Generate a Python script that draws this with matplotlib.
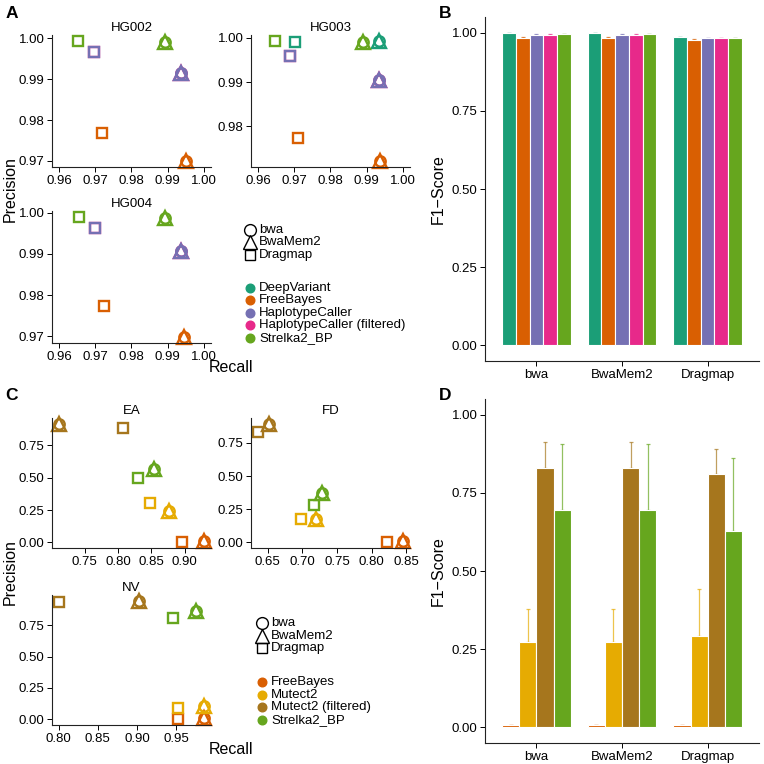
import matplotlib
matplotlib.use("Agg")
import matplotlib.pyplot as plt
import numpy as np
from matplotlib.lines import Line2D

plt.rcParams['font.family'] = ['Liberation Sans', 'DejaVu Sans']

W = H = 764
DPI = 100

# ---------------- data ----------------
aligners = ["bwa", "BwaMem2", "Dragmap"]
aligner_markers = {"bwa": "o", "BwaMem2": "^", "Dragmap": "s"}

germ_callers = ["DeepVariant", "FreeBayes", "HaplotypeCaller", "HaplotypeCaller (filtered)", "Strelka2_BP"]
germ_colors = ["#1B9E77", "#D95F02", "#7570B3", "#E7298A", "#66A61E"]

som_callers = ["FreeBayes", "Mutect2", "Mutect2 (filtered)", "Strelka2_BP"]
som_colors = ["#D95F02", "#E6AB02", "#A6761D", "#66A61E"]

# Panel A: precision / recall per sample (bwa and BwaMem2 coincide)
hg002_caller = ["FreeBayes", "FreeBayes", "FreeBayes",
                "HaplotypeCaller (filtered)", "HaplotypeCaller (filtered)", "HaplotypeCaller (filtered)",
                "HaplotypeCaller", "HaplotypeCaller", "HaplotypeCaller",
                "Strelka2_BP", "Strelka2_BP", "Strelka2_BP"]
hg002_aligner = ["bwa", "BwaMem2", "Dragmap"] * 4
hg002_recall = [0.9950, 0.9950, 0.9717, 0.9937, 0.9937, 0.9696, 0.9937, 0.9937, 0.9696, 0.9894, 0.9894, 0.9653]
hg002_precision = [0.9700, 0.9700, 0.9769, 0.9914, 0.9914, 0.9967, 0.9914, 0.9914, 0.9967, 0.9990, 0.9990, 0.9993]

hg003_caller = ["DeepVariant", "DeepVariant", "DeepVariant",
                "FreeBayes", "FreeBayes", "FreeBayes",
                "HaplotypeCaller (filtered)", "HaplotypeCaller (filtered)", "HaplotypeCaller (filtered)",
                "HaplotypeCaller", "HaplotypeCaller", "HaplotypeCaller",
                "Strelka2_BP", "Strelka2_BP", "Strelka2_BP"]
hg003_aligner = ["bwa", "BwaMem2", "Dragmap"] * 5
hg003_recall = [0.9933, 0.9933, 0.9703, 0.9937, 0.9937, 0.9711, 0.9933, 0.9933, 0.9689,
                0.9933, 0.9933, 0.9689, 0.9891, 0.9891, 0.9646]
hg003_precision = [0.9993, 0.9993, 0.9990, 0.9722, 0.9722, 0.9774, 0.9905, 0.9905, 0.9960,
                   0.9905, 0.9905, 0.9960, 0.9991, 0.9991, 0.9993]

hg004_caller = hg002_caller
hg004_aligner = hg002_aligner
hg004_recall = [0.9946, 0.9946, 0.9725, 0.9936, 0.9936, 0.9699, 0.9936, 0.9936, 0.9699, 0.9892, 0.9892, 0.9656]
hg004_precision = [0.9698, 0.9698, 0.9774, 0.9908, 0.9908, 0.9963, 0.9908, 0.9908, 0.9963, 0.9988, 0.9988, 0.9990]

a_xticks = [0.96, 0.97, 0.98, 0.99, 1.00]
hg002_yticks = [0.97, 0.98, 0.99, 1.00]
hg003_yticks = [0.98, 0.99, 1.00]
hg004_yticks = [0.97, 0.98, 0.99, 1.00]

# Panel C: somatic precision / recall
som_caller = ["FreeBayes"] * 3 + ["Mutect2"] * 3 + ["Mutect2 (filtered)"] * 3 + ["Strelka2_BP"] * 3
som_aligner = ["bwa", "BwaMem2", "Dragmap"] * 4
ea_recall = [0.9285, 0.9285, 0.8965, 0.876, 0.876, 0.8485, 0.7115, 0.7115, 0.8065, 0.854, 0.854, 0.830]
ea_precision = [0.010, 0.010, 0.003, 0.242, 0.242, 0.304, 0.916, 0.916, 0.885, 0.571, 0.571, 0.495]
fd_recall = [0.845, 0.845, 0.822, 0.720, 0.720, 0.698, 0.6515, 0.6515, 0.6362, 0.7286, 0.7286, 0.7163]
fd_precision = [0.010, 0.010, 0.003, 0.175, 0.175, 0.175, 0.8925, 0.8925, 0.8325, 0.375, 0.375, 0.280]
nv_recall = [0.985, 0.985, 0.952, 0.985, 0.985, 0.952, 0.903, 0.903, 0.8009, 0.975, 0.975, 0.9457]
nv_precision = [0.005, 0.005, 0.0, 0.105, 0.105, 0.087, 0.947, 0.947, 0.942, 0.868, 0.868, 0.808]

ea_xticks = [0.75, 0.80, 0.85, 0.90]
fd_xticks = [0.65, 0.70, 0.75, 0.80, 0.85]
nv_xticks = [0.80, 0.85, 0.90, 0.95]
c_yticks = [0.00, 0.25, 0.50, 0.75]

# Panel B: germline F1 (mean, sd)
b_bwa = [0.998, 0.984, 0.9936, 0.9936, 0.9947]
b_bwamem2 = [0.998, 0.984, 0.9936, 0.9936, 0.995]
b_dragmap = [0.986, 0.9766, 0.983, 0.983, 0.983]
b_bwa_sd = [0.0005, 0.002, 0.0006, 0.0006, 0.0005]
b_bwamem2_sd = [0.0005, 0.002, 0.0006, 0.0006, 0.0005]
b_dragmap_sd = [0.0005, 0.002, 0.0006, 0.0006, 0.0005]

# Panel D: somatic F1 (mean, sd)
d_bwa = [0.006, 0.272, 0.828, 0.695]
d_bwamem2 = [0.006, 0.272, 0.828, 0.695]
d_dragmap = [0.007, 0.2926, 0.8106, 0.6287]
d_bwa_sd = [0.002, 0.106, 0.085, 0.212]
d_bwamem2_sd = [0.002, 0.106, 0.085, 0.212]
d_dragmap_sd = [0.0015, 0.149, 0.081, 0.234]

f1_yticks = [0.00, 0.25, 0.50, 0.75, 1.00]

# ---------------- style ----------------
TICK_FS = 9.5
TITLE_FS = 11.5
STRIP_FS = 9.5
LEG_FS = 9.5
MS = {"o": 7.5, "^": 10.5, "s": 7.0}
LEG_MS = {"o": 8.5, "^": 9.5, "s": 6.8}
MEW = 1.7

fig = plt.figure(figsize=(W / DPI, H / DPI), dpi=DPI)


def add_ax(left, top, right, bottom):
    return fig.add_axes([left / W, 1 - bottom / H, (right - left) / W, (bottom - top) / H])


def style_ax(ax):
    for s in ["top", "right"]:
        ax.spines[s].set_visible(False)
    for s in ["left", "bottom"]:
        ax.spines[s].set_linewidth(0.8)
        ax.spines[s].set_color("#222222")
    ax.tick_params(direction="out", length=3.5, width=0.7, labelsize=TICK_FS, colors="black", pad=2)
    ax.set_facecolor("none")


def fmt(vals):
    return ["%.2f" % v for v in vals]


def expand(vals, frac=0.05):
    lo, hi = min(vals), max(vals)
    r = hi - lo
    return lo - frac * r, hi + frac * r


def scatter_panel(ax, callers, aligns, rec, prec, cal_list, col_list, title):
    cmap = dict(zip(cal_list, col_list))
    for c, a, x, y in zip(callers, aligns, rec, prec):
        m = aligner_markers[a]
        ax.plot([x], [y], linestyle="none", marker=m, markersize=MS[m], markerfacecolor="none",
                markeredgecolor=cmap[c], markeredgewidth=MEW, clip_on=False)
    ax.set_title(title, fontsize=STRIP_FS, pad=3)
    style_ax(ax)


# ---------------- Panel A ----------------
axA1 = add_ax(52, 35, 211, 167)
scatter_panel(axA1, hg002_caller, hg002_aligner, hg002_recall, hg002_precision, germ_callers, germ_colors, "HG002")
axA1.set_xlim(0.958, 1.002)
axA1.set_ylim(*expand(hg002_precision))
axA1.set_xticks(a_xticks, fmt(a_xticks))
axA1.set_yticks(hg002_yticks, fmt(hg002_yticks))

axA2 = add_ax(251, 35, 410, 167)
scatter_panel(axA2, hg003_caller, hg003_aligner, hg003_recall, hg003_precision, germ_callers, germ_colors, "HG003")
axA2.set_xlim(0.958, 1.002)
axA2.set_ylim(*expand(hg003_precision))
axA2.set_xticks(a_xticks, fmt(a_xticks))
axA2.set_yticks(hg003_yticks, fmt(hg003_yticks))

axA3 = add_ax(52, 211, 211, 343)
scatter_panel(axA3, hg004_caller, hg004_aligner, hg004_recall, hg004_precision, germ_callers, germ_colors, "HG004")
axA3.set_xlim(0.958, 1.002)
axA3.set_ylim(*expand(hg004_precision))
axA3.set_xticks(a_xticks, fmt(a_xticks))
axA3.set_yticks(hg004_yticks, fmt(hg004_yticks))

# ---------------- Panel C ----------------
axC1 = add_ax(52, 418, 211, 548)
scatter_panel(axC1, som_caller, som_aligner, ea_recall, ea_precision, som_callers, som_colors, "EA")
axC1.set_xlim(*expand(ea_recall))
axC1.set_ylim(*expand(ea_precision))
axC1.set_xticks(ea_xticks, fmt(ea_xticks))
axC1.set_yticks(c_yticks, fmt(c_yticks))

axC2 = add_ax(251, 418, 410, 548)
scatter_panel(axC2, som_caller, som_aligner, fd_recall, fd_precision, som_callers, som_colors, "FD")
axC2.set_xlim(*expand(fd_recall))
axC2.set_ylim(*expand(fd_precision))
axC2.set_xticks(fd_xticks, fmt(fd_xticks))
axC2.set_yticks(c_yticks, fmt(c_yticks))

axC3 = add_ax(52, 595, 211, 725)
scatter_panel(axC3, som_caller, som_aligner, nv_recall, nv_precision, som_callers, som_colors, "NV")
axC3.set_xlim(*expand(nv_recall))
axC3.set_ylim(*expand(nv_precision))
axC3.set_xticks(nv_xticks, fmt(nv_xticks))
axC3.set_yticks(c_yticks, fmt(c_yticks))


# ---------------- bar panels ----------------
def bar_panel(ax, means, sds, colors):
    n = len(colors)
    width = 0.8 / n
    for gi, (mv, sv) in enumerate(zip(means, sds)):
        for ci in range(n):
            x = gi - 0.4 + width * (ci + 0.5)
            ax.errorbar([x], [mv[ci]], yerr=[[0], [sv[ci]]], fmt="none", ecolor=colors[ci], alpha=0.7,
                        elinewidth=0.9, capsize=1.2, capthick=0.9, zorder=1)
            ax.bar([x], [mv[ci]], width=width, color=colors[ci], edgecolor="white", linewidth=0.8, zorder=2)
    ax.set_xlim(-0.6, 2.6)
    ax.set_ylim(-0.05, 1.05)
    ax.set_xticks(range(len(aligners)), aligners)
    ax.set_yticks(f1_yticks, fmt(f1_yticks))
    ax.set_ylabel("F1\u2212Score", fontsize=TITLE_FS, labelpad=4)
    style_ax(ax)


axB = add_ax(485, 17, 759, 361)
bar_panel(axB, [b_bwa, b_bwamem2, b_dragmap], [b_bwa_sd, b_bwamem2_sd, b_dragmap_sd], germ_colors)

axD = add_ax(485, 399, 759, 743)
bar_panel(axD, [d_bwa, d_bwamem2, d_dragmap], [d_bwa_sd, d_bwamem2_sd, d_dragmap_sd], som_colors)

# ---------------- overlay: labels & legends ----------------
ov = fig.add_axes([0, 0, 1, 1])
ov.set_xlim(0, W)
ov.set_ylim(H, 0)
ov.axis("off")

for letter, (x, y) in {"A": (12, 14), "B": (445, 13), "C": (12, 395), "D": (445, 395)}.items():
    ov.text(x, y, letter, fontsize=12.5, fontweight="bold", ha="center", va="center")

ov.text(231, 368, "Recall", fontsize=TITLE_FS, ha="center", va="center")
ov.text(231, 750, "Recall", fontsize=TITLE_FS, ha="center", va="center")
ov.text(10, 189, "Precision", fontsize=TITLE_FS, ha="center", va="center", rotation=90)
ov.text(10, 572, "Precision", fontsize=TITLE_FS, ha="center", va="center", rotation=90)


def legend(x0, shape_y0, color_y0, step, cal_list, col_list):
    for i, a in enumerate(aligners):
        m = aligner_markers[a]
        ov.plot([x0], [shape_y0 + i * step], linestyle="none", marker=m, markersize=LEG_MS[m],
                markerfacecolor="none", markeredgecolor="black", markeredgewidth=1.0)
        ov.text(x0 + 9, shape_y0 + i * step, a, fontsize=LEG_FS, va="center", ha="left")
    for i, (c, col) in enumerate(zip(cal_list, col_list)):
        ov.plot([x0], [color_y0 + i * step], linestyle="none", marker="o", markersize=6.2,
                markerfacecolor=col, markeredgecolor=col)
        ov.text(x0 + 9, color_y0 + i * step, c, fontsize=LEG_FS, va="center", ha="left")


legend(250, 230, 288, 12.4, germ_callers, germ_colors)
legend(262, 623, 682, 12.6, som_callers, som_colors)

fig.savefig("out.png", dpi=DPI)
